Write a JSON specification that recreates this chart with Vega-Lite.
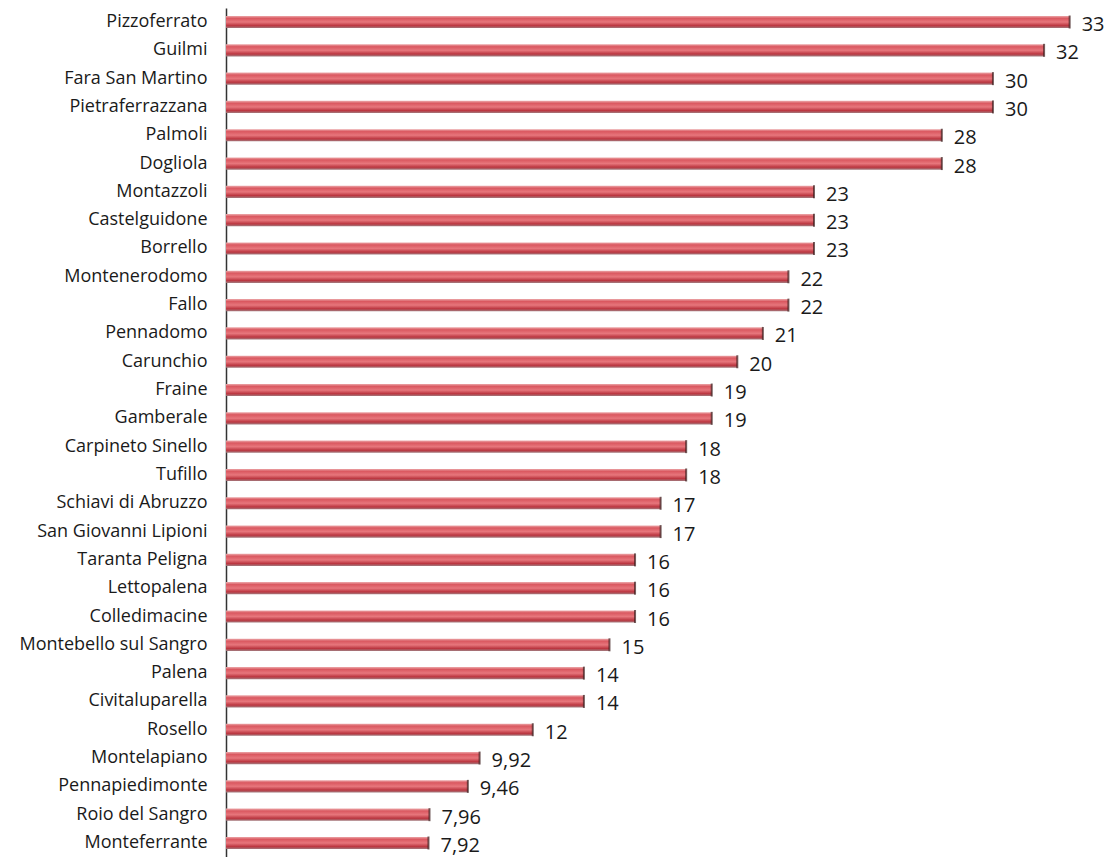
{
  "$schema": "https://vega.github.io/schema/vega-lite/v6.json",
  "width": 882,
  "height": 849,
  "padding": {"left": 0, "top": 8, "right": 0, "bottom": 0},
  "autosize": {"type": "pad"},
  "background": "white",
  "config": {
    "view": {"stroke": null},
    "locale": {"number": {"decimal": ",", "thousands": ".", "grouping": [3], "currency": ["€", ""]}}
  },
  "data": {
    "values": [
      {"comune": "Pizzoferrato", "valore": 33},
      {"comune": "Guilmi", "valore": 32},
      {"comune": "Fara San Martino", "valore": 30},
      {"comune": "Pietraferrazzana", "valore": 30},
      {"comune": "Palmoli", "valore": 28},
      {"comune": "Dogliola", "valore": 28},
      {"comune": "Montazzoli", "valore": 23},
      {"comune": "Castelguidone", "valore": 23},
      {"comune": "Borrello", "valore": 23},
      {"comune": "Montenerodomo", "valore": 22},
      {"comune": "Fallo", "valore": 22},
      {"comune": "Pennadomo", "valore": 21},
      {"comune": "Carunchio", "valore": 20},
      {"comune": "Fraine", "valore": 19},
      {"comune": "Gamberale", "valore": 19},
      {"comune": "Carpineto Sinello", "valore": 18},
      {"comune": "Tufillo", "valore": 18},
      {"comune": "Schiavi di Abruzzo", "valore": 17},
      {"comune": "San Giovanni Lipioni", "valore": 17},
      {"comune": "Taranta Peligna", "valore": 16},
      {"comune": "Lettopalena", "valore": 16},
      {"comune": "Colledimacine", "valore": 16},
      {"comune": "Montebello sul Sangro", "valore": 15},
      {"comune": "Palena", "valore": 14},
      {"comune": "Civitaluparella", "valore": 14},
      {"comune": "Rosello", "valore": 12},
      {"comune": "Montelapiano", "valore": 9.92},
      {"comune": "Pennapiedimonte", "valore": 9.46},
      {"comune": "Roio del Sangro", "valore": 7.96},
      {"comune": "Monteferrante", "valore": 7.92}
    ]
  },
  "encoding": {
    "y": {
      "field": "comune",
      "type": "nominal",
      "sort": null,
      "scale": {"paddingInner": 0.57, "paddingOuter": 0.28},
      "axis": {
        "title": null,
        "ticks": false,
        "labelFont": "Open Sans",
        "labelFontSize": 18,
        "labelColor": "#1a1a1a",
        "labelPadding": 19,
        "labelLimit": 240,
        "minExtent": 226,
        "maxExtent": 226,
        "domainColor": "#333333",
        "domainWidth": 1.5
      }
    },
    "x": {
      "field": "valore",
      "type": "quantitative",
      "scale": {"domain": [0, 34.5], "nice": false},
      "axis": null
    }
  },
  "layer": [
    {
      "mark": {
        "type": "bar",
        "color": {
          "gradient": "linear",
          "x1": 0, "y1": 0, "x2": 0, "y2": 1,
          "stops": [
            {"offset": 0, "color": "#eca8aa"},
            {"offset": 0.2, "color": "#da5860"},
            {"offset": 0.5, "color": "#e7767c"},
            {"offset": 0.8, "color": "#bb3640"},
            {"offset": 1, "color": "#a27a7e"}
          ]
        }
      }
    },
    {
      "mark": {"type": "tick", "orient": "vertical", "color": "#3a1a1a", "size": 13, "thickness": 2}
    },
    {
      "mark": {
        "type": "text",
        "align": "left",
        "baseline": "middle",
        "dx": 12,
        "dy": 3,
        "font": "Open Sans",
        "fontSize": 20,
        "color": "#1a1a1a"
      },
      "encoding": {
        "text": {"field": "valore", "type": "quantitative", "format": "~g"}
      }
    }
  ]
}
